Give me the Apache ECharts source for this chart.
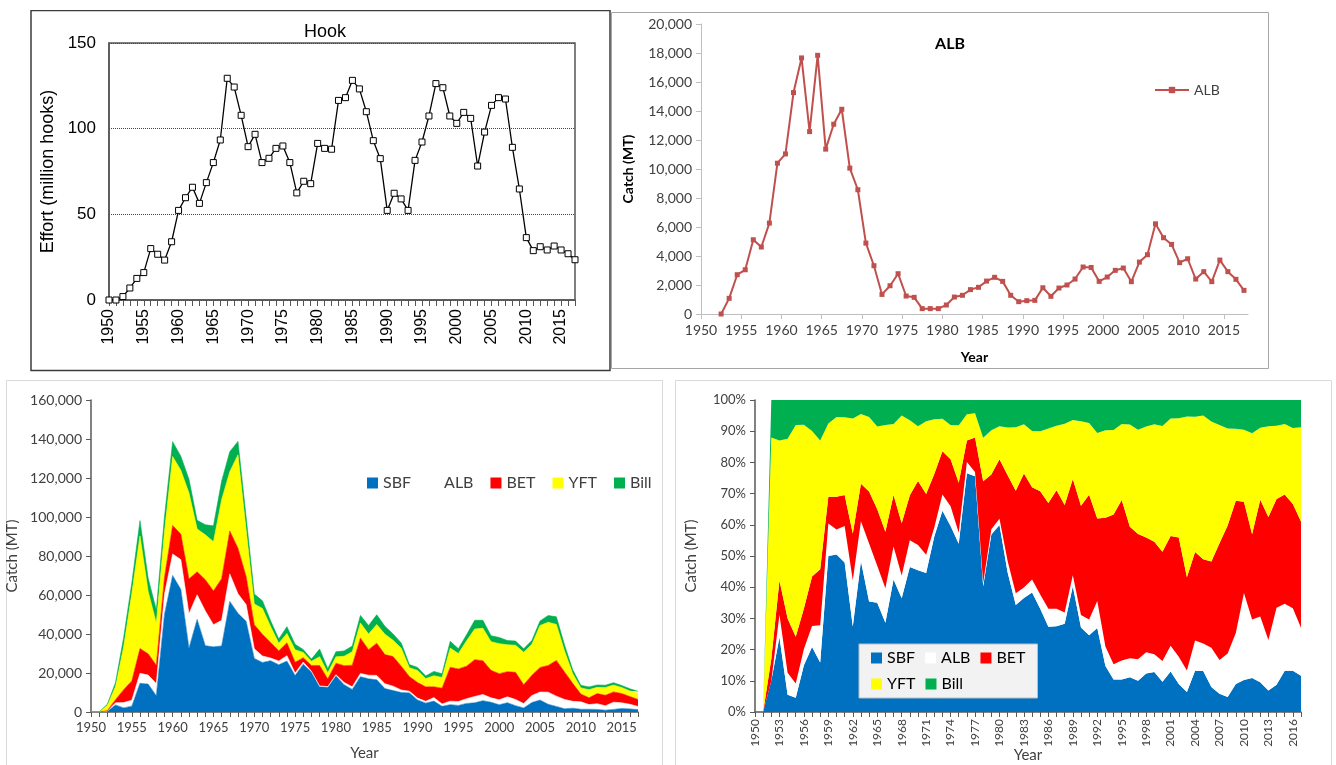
<!DOCTYPE html>
<html><head><meta charset="utf-8">
<script src="https://cdn.jsdelivr.net/npm/echarts@6/dist/echarts.min.js"></script>
<style>
html,body{margin:0;padding:0;background:#fff;width:1336px;height:765px;overflow:hidden}
.p{position:absolute}
</style></head><body>
<div id="c1" class="p" style="left:30px;top:10px;width:582px;height:362px"></div>
<div id="c2" class="p" style="left:611px;top:12px;width:659px;height:358px"></div>
<div id="c3" class="p" style="left:6px;top:380px;width:658px;height:385px"></div>
<div id="c4" class="p" style="left:675px;top:379px;width:658px;height:386px"></div>
<script>
// ---------- DATA ----------
const FIRST_YEAR = 1950, LAST_YEAR = 2017;
const YEARS = [];
for (let y = FIRST_YEAR; y <= LAST_YEAR; y++) YEARS.push(y);

// Hook effort (million hooks), 1950-2017
const HOOK = [
  0, 0, 2, 7, 12.6, 16, 30, 26.7, 23.3, 34,
  52.3, 59.7, 65.8, 56.4, 68.5, 80.2, 93.4, 129.4, 124.3, 107.8,
  89.5, 96.7, 80.2, 82.7, 88.5, 89.9, 80.2, 62.5, 69.3, 67.9,
  91.4, 88.5, 88, 116.5, 118.1, 128.2, 123.2, 109.9, 93, 82.5,
  52.3, 62.3, 59, 52.3, 81.5, 92.2, 107.4, 126.3, 123.9, 107.4,
  103.1, 109.5, 106, 78.2, 98, 113.6, 118.1, 117.3, 89.1, 64.8,
  36.4, 28.8, 31.1, 29.2, 31.5, 29.2, 27, 23.5
];

// Catch (MT), 1950-2017
const ALB_START = 1952;
const ALB = [
  0, 0, 0, 1080, 2710, 3050, 5120, 4620, 6270, 10400,
  11040, 15270, 17660, 12580, 17840, 11370, 13090, 14120, 10060, 8570,
  4890, 3330, 1350, 1950, 2780, 1240, 1150, 370, 370, 370,
  620, 1170, 1290, 1680, 1840, 2270, 2530, 2250, 1290, 850,
  920, 940, 1810, 1220, 1790, 2000, 2410, 3240, 3210, 2250,
  2550, 3010, 3170, 2230, 3580, 4090, 6220, 5260, 4800, 3540,
  3810, 2410, 2920, 2230, 3720, 2920, 2390, 1630
];
const SBF = [
  0, 0, 400, 3600, 2100, 3000, 14700, 14300, 8300, 50000,
  70000, 62900, 32700, 47500, 34000, 33400, 33900, 56700, 50600, 46500,
  27500, 25400, 26300, 24200, 26100, 18700, 24500, 20500, 13000, 12650,
  18500, 14000, 11600, 18100, 17000, 16500, 12000, 11000, 10000, 9800,
  6200, 4550, 5600, 2900, 3770, 3370, 4400, 4700, 5800, 5000,
  3700, 4760, 3260, 2070, 4840, 6140, 3950, 2870, 1660, 1950,
  1400, 1400, 1320, 940, 1310, 1800, 1570, 1230
];
const BET = [
  0, 0, 280, 1650, 6650, 9900, 12700, 10900, 9400, 8600,
  14600, 13100, 17900, 11800, 16000, 17300, 21400, 22000, 23300, 14400,
  12400, 11100, 8000, 5200, 6600, 5550, 2200, 3000, 10500, 3900,
  5900, 8600, 11100, 18100, 13100, 16500, 14900, 15200, 12200, 7500,
  8000, 7400, 5500, 8100, 17400, 16700, 16700, 18900, 17300, 14100,
  13400, 12900, 13900, 9700, 10400, 12600, 13700, 18300, 14100, 9200,
  4000, 3500, 5200, 5400, 5250, 4750, 3970, 3610
];
const YFT = [
  0, 0, 2840, 6750, 22000, 44900, 57800, 32000, 21600, 23500,
  35400, 32700, 44000, 22000, 23000, 25300, 40500, 30400, 47900, 24000,
  10600, 13300, 8200, 3900, 4800, 6400, 2700, 2100, 4500, 3150,
  3250, 4800, 6900, 7800, 8000, 9600, 10500, 8300, 9200, 4600,
  6200, 4260, 5700, 5500, 9800, 7900, 13000, 15700, 16700, 14700,
  15400, 13800, 13900, 16700, 15900, 21500, 22200, 18500, 10700, 5000,
  3150, 4160, 3200, 4000, 3530, 3070, 2900, 3200
];
const BILL = [
  0, 0, 480, 1950, 4750, 5300, 7800, 6800, 6800, 7500,
  7600, 7200, 7100, 4400, 5200, 8100, 9500, 10300, 6900, 6500,
  5100, 3900, 2900, 2250, 3500, 2800, 1450, 1150, 3900, 2150,
  2600, 2750, 2950, 3860, 4400, 5000, 4000, 3300, 2700, 1550,
  1560, 1360, 2200, 1900, 3500, 2500, 3100, 4500, 4000, 3050,
  3200, 2160, 2140, 1720, 1980, 2330, 3400, 3900, 3140, 2000,
  1300, 1370, 1230, 1150, 1240, 1050, 1070, 930
];

const SPECIES = [
  {name: 'SBF', data: SBF, color: '#0070c0'},
  {name: 'ALB', data: ALB, color: '#ffffff'},
  {name: 'BET', data: BET, color: '#ff0000'},
  {name: 'YFT', data: YFT, color: '#ffff00'},
  {name: 'Bill', data: BILL, color: '#00b050'}
];

// ---------- COMMON ----------
const ARIAL = 'Liberation Sans';
const CAL = 'Lato';
const TXT = '#404040';
const fmtK = v => Number(v).toLocaleString('en-US');
const fmtYear = v => String(v);
function gridBase(o) { return Object.assign({containLabel: false, outerBoundsMode: 'none'}, o); }

// ---------- 1: Hook ----------
const c1 = echarts.init(document.getElementById('c1'));
c1.setOption({
  animation: false,
  graphic: [{type: 'rect', shape: {x: 1, y: 0.5, width: 579, height: 360}, style: {fill: 'none', stroke: '#3c3c3c', lineWidth: 1.5}}],
  title: {text: 'Hook', left: 290, top: 8, textAlign: 'center',
    textStyle: {fontFamily: ARIAL, fontSize: 18, fontWeight: 'normal', color: '#000'}},
  grid: gridBase({left: 79, top: 33, width: 466, height: 257, show: true, borderColor: '#555', borderWidth: 1.5, backgroundColor: 'transparent'}),
  xAxis: {type: 'value', min: FIRST_YEAR, max: LAST_YEAR, interval: 5,
    axisLine: {show: true, lineStyle: {color: '#555', width: 1.5}},
    axisTick: {show: true, length: 6, lineStyle: {color: '#555'}},
    minorTick: {show: true, splitNumber: 5, length: 6, lineStyle: {color: '#555'}},
    splitLine: {show: false}, minorSplitLine: {show: false},
    axisLabel: {rotate: 90, fontFamily: ARIAL, fontSize: 16, color: '#000', margin: 9, showMaxLabel: false, formatter: fmtYear}},
  yAxis: {type: 'value', min: 0, max: 150, interval: 50,
    name: 'Effort (million hooks)', nameLocation: 'middle', nameGap: 50,
    nameTextStyle: {fontFamily: ARIAL, fontSize: 18, color: '#000'},
    axisLine: {show: true, lineStyle: {color: '#555', width: 1.5}},
    axisTick: {show: false},
    splitLine: {show: true, lineStyle: {type: 'dotted', color: '#444', width: 1}},
    axisLabel: {fontFamily: ARIAL, fontSize: 17, color: '#000', margin: 13}},
  series: [{type: 'line', name: 'Hook', data: YEARS.map((y, i) => [y, HOOK[i]]),
    symbol: 'rect', symbolSize: 6, showSymbol: true,
    itemStyle: {color: '#fff', borderColor: '#000', borderWidth: 1},
    lineStyle: {color: '#000', width: 1.3}}]
});

// ---------- 2: ALB ----------
const c2 = echarts.init(document.getElementById('c2'));
const albLine = YEARS.map((y, i) => [y + 0.5, ALB[i], y]).filter(d => d[2] >= ALB_START).map(d => [d[0], d[1]]);
c2.setOption({
  animation: false,
  graphic: [{type: 'rect', shape: {x: 0.5, y: 0.5, width: 657, height: 356}, style: {fill: 'none', stroke: '#a6a6a6', lineWidth: 1}}],
  title: {text: 'ALB', left: 334, top: 19, textAlign: 'center',
    textStyle: {fontFamily: CAL, fontSize: 16, fontWeight: 'bold', color: '#000'}},
  legend: {data: ['ALB'], left: 538, top: 66, itemWidth: 34, itemHeight: 8, itemGap: 4,
    textStyle: {fontFamily: CAL, fontSize: 14, color: TXT}},
  grid: gridBase({left: 90, top: 12, width: 547, height: 290}),
  xAxis: {type: 'value', min: FIRST_YEAR, max: LAST_YEAR + 1, interval: 5,
    name: 'Year', nameLocation: 'middle', nameGap: 36,
    nameTextStyle: {fontFamily: CAL, fontSize: 14, fontWeight: 'bold', color: '#000'},
    axisLine: {show: true, lineStyle: {color: '#bfbfbf', width: 1}},
    axisTick: {show: true, length: 5, lineStyle: {color: '#bfbfbf'}},
    splitLine: {show: false},
    axisLabel: {fontFamily: CAL, fontSize: 14, color: TXT, margin: 9, showMaxLabel: false, formatter: fmtYear}},
  yAxis: {type: 'value', min: 0, max: 20000, interval: 2000,
    name: 'Catch (MT)', nameLocation: 'middle', nameGap: 66,
    nameTextStyle: {fontFamily: CAL, fontSize: 14, fontWeight: 'bold', color: '#000'},
    axisLine: {show: true, lineStyle: {color: '#bfbfbf', width: 1}},
    axisTick: {show: true, length: 5, lineStyle: {color: '#bfbfbf'}},
    splitLine: {show: false},
    axisLabel: {fontFamily: CAL, fontSize: 14, color: TXT, margin: 9, formatter: fmtK}},
  series: [{type: 'line', name: 'ALB', data: albLine,
    symbol: 'rect', symbolSize: 5, showSymbol: true,
    itemStyle: {color: '#c0504d'}, lineStyle: {color: '#c0504d', width: 2}}]
});

// ---------- 3: stacked catch ----------
const c3 = echarts.init(document.getElementById('c3'));
c3.setOption({
  animation: false,
  graphic: [{type: 'rect', shape: {x: 0.5, y: 0.5, width: 656, height: 395}, style: {fill: 'none', stroke: '#d9d9d9', lineWidth: 1}}],
  legend: {data: SPECIES.map(s => s.name), left: 356, top: 90, itemWidth: 11, itemHeight: 11, itemGap: 17, icon: 'rect',
    textStyle: {fontFamily: CAL, fontSize: 16, color: TXT}},
  grid: gridBase({left: 85, top: 20, width: 547, height: 312}),
  xAxis: {type: 'category', data: YEARS, boundaryGap: false,
    name: 'Year', nameLocation: 'middle', nameGap: 34,
    nameTextStyle: {fontFamily: CAL, fontSize: 15, color: TXT},
    axisLine: {show: true, lineStyle: {color: '#595959', width: 1.5}},
    axisTick: {show: true, length: 5, interval: 0, lineStyle: {color: '#595959'}},
    splitLine: {show: false},
    axisLabel: {interval: 4, fontFamily: CAL, fontSize: 13, color: TXT, margin: 9}},
  yAxis: {type: 'value', min: 0, max: 160000, interval: 20000,
    name: 'Catch (MT)', nameLocation: 'middle', nameGap: 62,
    nameTextStyle: {fontFamily: CAL, fontSize: 15, color: TXT},
    axisLine: {show: true, lineStyle: {color: '#595959', width: 1.5}},
    axisTick: {show: true, length: 5, lineStyle: {color: '#595959'}},
    splitLine: {show: false},
    axisLabel: {fontFamily: CAL, fontSize: 14, color: TXT, margin: 9, formatter: fmtK}},
  series: SPECIES.map(s => ({type: 'line', name: s.name, stack: 'catch',
    data: s.data,
    symbol: 'none', lineStyle: {width: 0.6, color: s.color},
    itemStyle: {color: s.color}, areaStyle: {color: s.color, opacity: 1}}))
});

// ---------- 4: percent stacked ----------
const c4 = echarts.init(document.getElementById('c4'));
const totals = YEARS.map((y, i) => SPECIES.reduce((a, s) => a + s.data[i], 0));
c4.setOption({
  animation: false,
  graphic: [{type: 'rect', shape: {x: 0.5, y: 1.5, width: 656, height: 395}, style: {fill: 'none', stroke: '#d9d9d9', lineWidth: 1}}],
  legend: {data: SPECIES.map(s => s.name), left: 184, top: 265, width: 162, itemWidth: 11, itemHeight: 11, itemGap: 10, icon: 'rect',
    padding: [6, 12, 6, 12], backgroundColor: '#f2f2f2', borderColor: '#bfbfbf', borderWidth: 1,
    textStyle: {fontFamily: CAL, fontSize: 16, color: '#000'}},
  grid: gridBase({left: 80, top: 21, width: 546, height: 312}),
  xAxis: {type: 'category', data: YEARS, boundaryGap: false,
    name: 'Year', nameLocation: 'middle', nameGap: 36, nameMoveOverlap: false,
    nameTextStyle: {fontFamily: CAL, fontSize: 15, color: TXT},
    axisLine: {show: true, lineStyle: {color: '#595959', width: 1.5}},
    axisTick: {show: true, length: 5, interval: 0, lineStyle: {color: '#595959'}},
    splitLine: {show: false},
    axisLabel: {interval: 2, rotate: 90, fontFamily: CAL, fontSize: 12, color: TXT, margin: 7}},
  yAxis: {type: 'value', min: 0, max: 100, interval: 10,
    name: 'Catch (MT)', nameLocation: 'middle', nameGap: 56,
    nameTextStyle: {fontFamily: CAL, fontSize: 15, color: TXT},
    axisLine: {show: true, lineStyle: {color: '#595959', width: 1.5}},
    axisTick: {show: true, length: 5, lineStyle: {color: '#595959'}},
    splitLine: {show: false},
    axisLabel: {fontFamily: CAL, fontSize: 13, color: TXT, margin: 9, formatter: '{value}%'}},
  series: SPECIES.map(s => ({type: 'line', name: s.name, stack: 'pct',
    data: s.data.map((v, i) => totals[i] ? v / totals[i] * 100 : 0),
    symbol: 'none', lineStyle: {width: 0},
    itemStyle: {color: s.color}, areaStyle: {color: s.color, opacity: 1}}))
});
</script>
</body></html>
